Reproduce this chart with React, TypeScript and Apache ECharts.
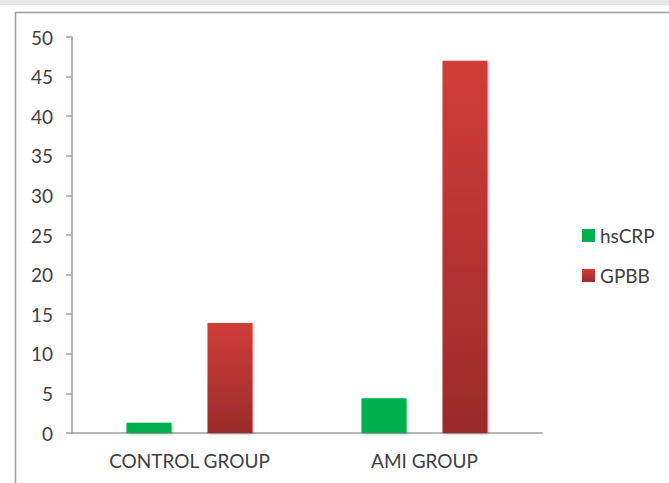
import React, { useEffect, useRef } from "react";
import * as echarts from "echarts";

const categories = ["CONTROL GROUP", "AMI GROUP"];
const hsCRP = [1.3, 4.4];
const GPBB = [13.9, 47];
const yTicks = { min: 0, max: 50, interval: 5 };

export default function App() {
  const ref = useRef<HTMLDivElement>(null);
  useEffect(() => {
    const chart = echarts.init(ref.current!, null, { renderer: "svg" });
    const font = "Lato";
    const fs = 19;
    const shadow = {
      shadowBlur: 3,
      shadowColor: "rgba(0,0,0,0.3)",
      shadowOffsetX: 1,
      shadowOffsetY: 1,
    };
    chart.setOption({
      animation: false,
      backgroundColor: "#ffffff",
      graphic: [
        { type: "rect", shape: { x: 0, y: 0, width: 669, height: 5 }, style: { fill: "#e5e6e8" }, silent: true },
        {
          type: "rect",
          shape: { x: 15.5, y: 12.5, width: 700, height: 500 },
          style: { fill: "none", stroke: "#a0a0a0", lineWidth: 1.5 },
          silent: true,
          z: -1,
        },
      ],
      grid: { left: 72, right: 127, top: 37, bottom: 50, containLabel: false },
      legend: {
        orient: "vertical",
        left: 577,
        top: 221,
        itemWidth: 13,
        itemHeight: 13,
        itemGap: 21,
        icon: "rect",
        textStyle: { fontFamily: font, fontSize: fs, lineHeight: 19, color: "#404040" },
        data: ["hsCRP", "GPBB"],
      },
      xAxis: {
        type: "category",
        data: categories,
        axisLine: { lineStyle: { color: "#a0a0a0", width: 1.5 } },
        axisTick: { show: false },
        axisLabel: { fontFamily: font, fontSize: fs, color: "#404040", margin: 18 },
      },
      yAxis: {
        type: "value",
        min: yTicks.min,
        max: yTicks.max,
        interval: yTicks.interval,
        splitLine: { show: false },
        axisLine: { show: true, lineStyle: { color: "#a0a0a0", width: 1.5 } },
        axisTick: { show: true, length: 6, lineStyle: { color: "#a0a0a0", width: 1.5 } },
        axisLabel: { fontFamily: font, fontSize: fs, color: "#404040", margin: 19 },
      },
      series: [
        {
          name: "hsCRP",
          type: "bar",
          data: hsCRP,
          barWidth: 45,
          barGap: "80%",
          itemStyle: { color: "#00b050", ...shadow },
        },
        {
          name: "GPBB",
          type: "bar",
          data: GPBB,
          barWidth: 45,
          barGap: "80%",
          itemStyle: {
            color: new echarts.graphic.LinearGradient(0, 0, 0, 1, [
              { offset: 0, color: "#d13d39" },
              { offset: 1, color: "#9a2b2a" },
            ]),
            ...shadow,
          },
        },
      ],
    });
    return () => chart.dispose();
  }, []);
  return (
    <div
      ref={ref}
      style={{ position: "absolute", left: 0, top: 0, width: 669, height: 483 }}
    />
  );
}
